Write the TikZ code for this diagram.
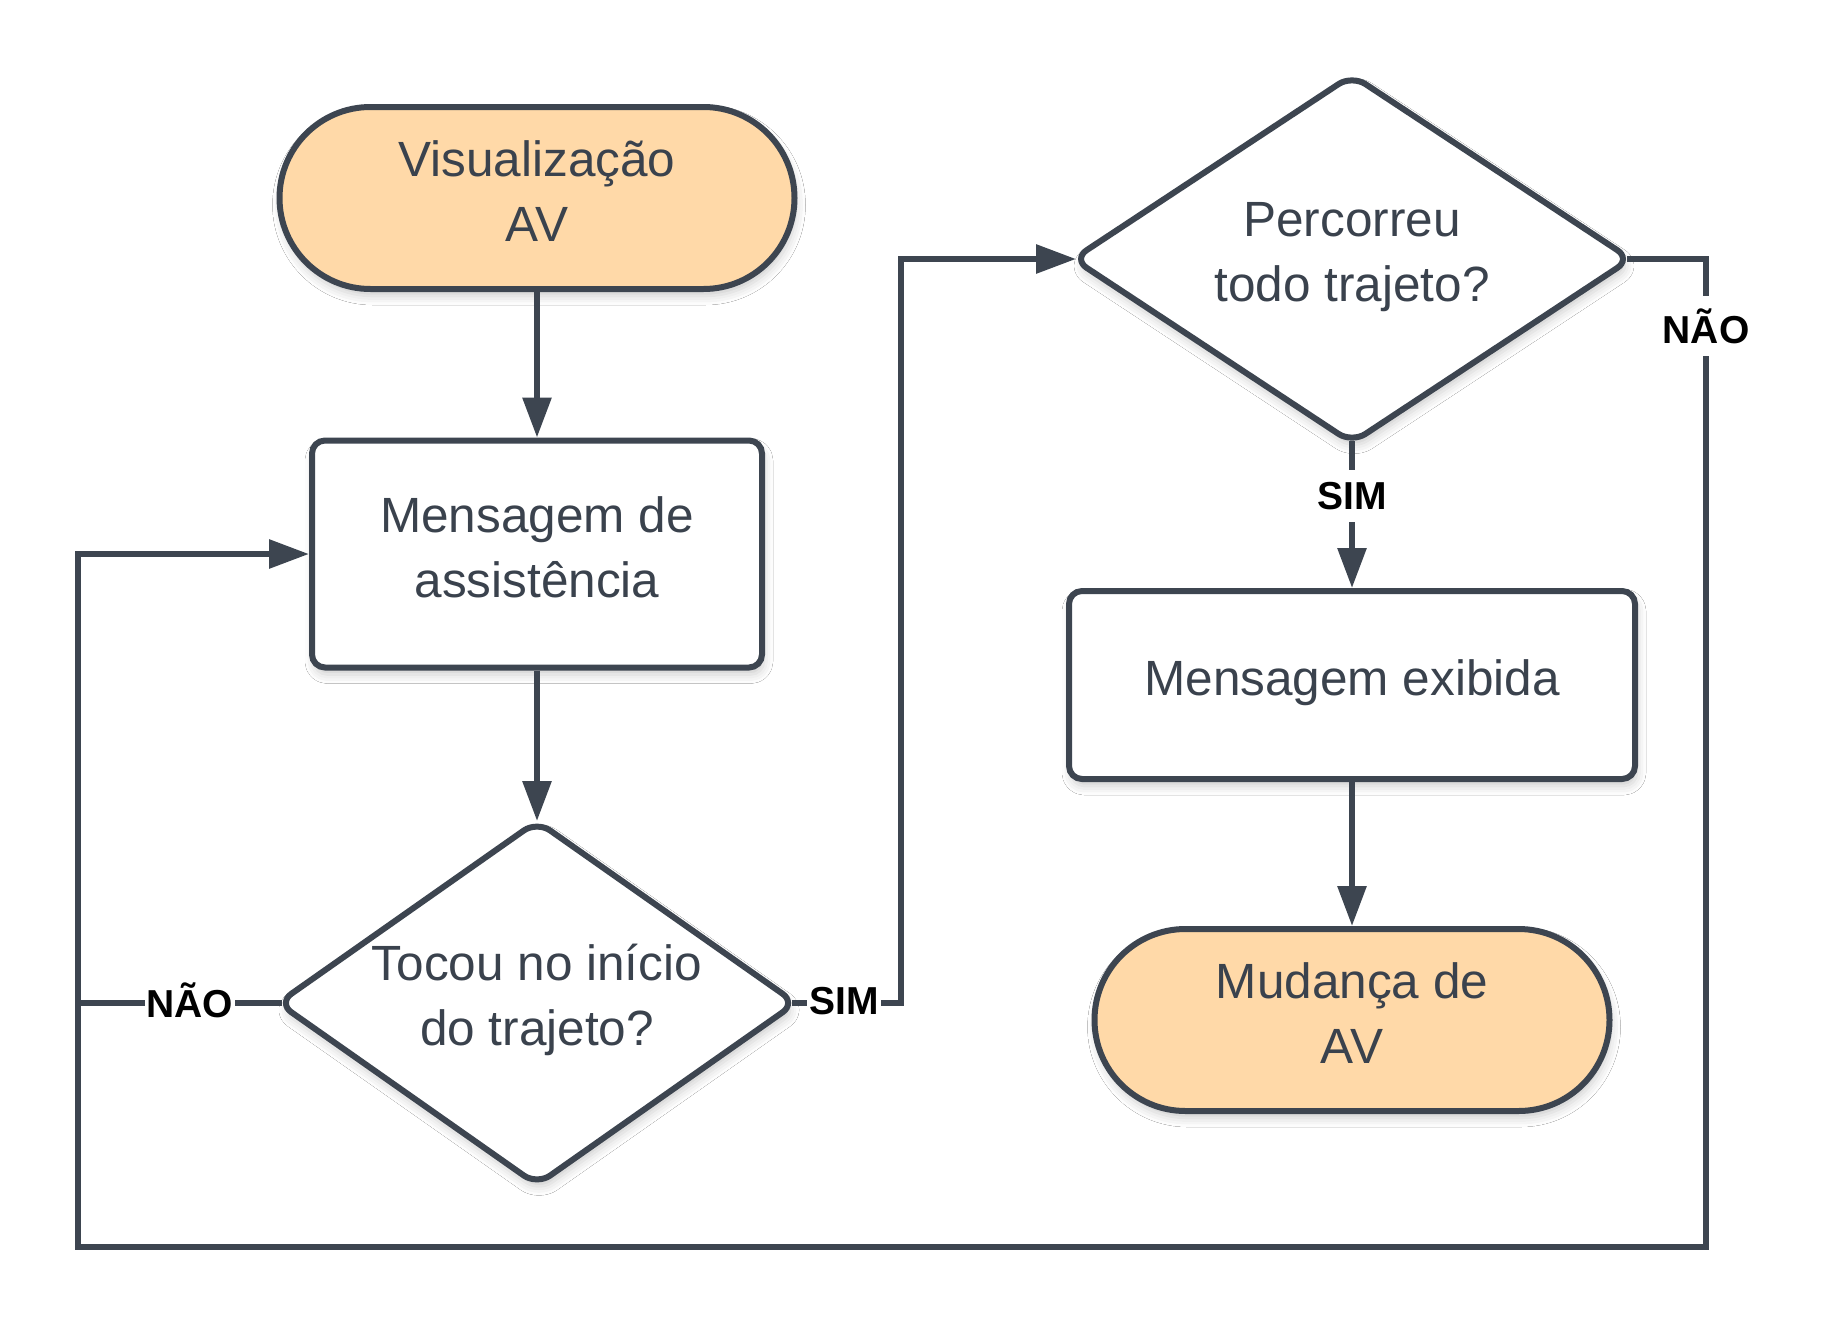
\documentclass[tikz,border=0pt]{standalone}
\usepackage{fontspec}
\setmainfont{Liberation Sans}
\usetikzlibrary{arrows.meta,shapes.geometric,shadows.blur}
\definecolor{ln}{HTML}{3D4550}
\definecolor{tx}{HTML}{3A424D}
\definecolor{peach}{HTML}{FFD9A8}
\begin{document}
\begin{tikzpicture}[x=1pt,y=-1pt,
 base/.style={draw=ln, line width=6pt, fill=white, blur shadow={shadow xshift=2pt, shadow yshift=-7pt, shadow blur radius=9pt, shadow opacity=20}},
 term/.style={base, fill=peach, rounded corners=91pt, minimum width=515pt, minimum height=182pt},
 proc/.style={base, rounded corners=13pt},
 dec/.style={base, diamond, rounded corners=16pt, inner sep=0pt},
 txt/.style={text=tx, font=\fontsize{49.5}{65}\selectfont, align=center},
 lab/.style={fill=white, font=\fontsize{39}{45}\selectfont\bfseries, inner xsep=2pt, inner ysep=12pt, text=black},
 arr/.style={draw=ln, line width=6pt, -{Triangle[length=40pt,width=28pt]}},
 con/.style={draw=ln, line width=6pt}
]
\useasboundingbox[fill=white] (0,0) rectangle (1828,1328);

% shapes
\node[term] (t1) at (537,198) {};
\node[txt] (t1t) at (537,191) {Visualização\\AV};
\node[proc, minimum width=450pt, minimum height=227pt] (b1) at (537,554) {};
\node[txt] (b1t) at (537,547) {Mensagem de\\assistência};
\node[dec, minimum width=520pt, minimum height=366pt] (d1) at (537,1003) {};
\node[txt] (d1t) at (537,1000) {Tocou no início\\do trajeto?};
\node[dec, minimum width=560pt, minimum height=370pt] (d2) at (1352,259) {};
\node[txt] (d2t) at (1352,257) {Percorreu\\todo trajeto?};
\node[proc, minimum width=566pt, minimum height=188pt] (b2) at (1352,685) {};
\node[txt] (b2t) at (1352,683) {Mensagem exibida};
\node[term] (t2) at (1352,1020) {};
\node[txt] (t2t) at (1352,1013) {Mudança de\\AV};

% helper coordinates
\coordinate (sx) at (901,600);
\coordinate (br) at (1706,1247);
\coordinate (bl) at (78,1247);

% connectors
\draw[arr] (t1.south) -- (b1.north);
\draw[arr] (b1.south) -- ([yshift=-4pt]d1.north);
\draw[arr] ([xshift=-8pt]d1.east) -- (d1.east -| sx) |- ([xshift=7pt]d2.west);
\draw[arr] ([yshift=6pt]d2.south) -- (b2.north);
\draw[arr] (b2.south) -- (t2.north);
\draw[arr] ([xshift=-8pt]d2.east) -| (br) -- (bl) |- (b1.west);
\draw[con] ([xshift=8pt]d1.west) -- (d1.west -| bl);

% labels
\node[lab] (l1) at (844,1001) {SIM};
\node[lab] (l2) at (190,1000) {NÃO};
\node[lab] (l3) at (1706,326) {NÃO};
\node[lab] (l4) at (1352,496) {SIM};
\end{tikzpicture}
\end{document}
